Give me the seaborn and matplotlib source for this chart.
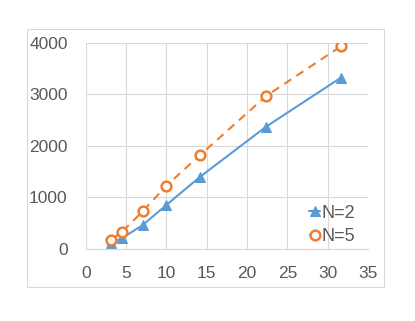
import matplotlib
matplotlib.use("Agg")
import matplotlib.pyplot as plt
import seaborn as sns
import pandas as pd
from matplotlib.patches import Rectangle

# data
x_vals = [3.16, 4.47, 7.07, 10.0, 14.14, 22.36, 31.62]
n2_vals = [110, 207, 465, 853, 1396, 2372, 3321]
n5_vals = [181, 330, 730, 1228, 1816, 2966, 3929]
series_names = ["N=2", "N=5"]

df = pd.DataFrame({
    "x": x_vals * 2,
    "y": n2_vals + n5_vals,
    "series": [series_names[0]] * len(x_vals) + [series_names[1]] * len(x_vals),
})

sns.set_theme(style="white")
plt.rcParams["font.family"] = ["Liberation Sans", "DejaVu Sans"]

blue = "#5B9BD5"
orange = "#ED7D31"
grey_text = "#595959"

fig = plt.figure(figsize=(4.15, 3.21), dpi=100)
fig.patches.append(Rectangle((0.064, 0.106), 0.861, 0.805, transform=fig.transFigure,
                             fill=False, edgecolor="#D9D9D9", linewidth=0.8))
ax = fig.add_axes([0.2065, 0.2243, 0.6805, 0.6427])

d2 = df[df["series"] == "N=2"]
d5 = df[df["series"] == "N=5"]
sns.lineplot(data=d2, x="x", y="y", ax=ax, color=blue, marker="^", markersize=7,
             markeredgecolor=blue, linewidth=1.5, label="N=2")
sns.lineplot(data=d5, x="x", y="y", ax=ax, color=orange, marker="o", markersize=7,
             markerfacecolor="white", markeredgecolor=orange, markeredgewidth=1.8,
             linewidth=1.5, linestyle=(0, (4, 3)), label="N=5")

ax.set_xlim(0, 35)
ax.set_ylim(0, 4000)
ax.set_xticks(range(0, 36, 5))
ax.set_yticks(range(0, 4001, 1000))
ax.grid(True, color="#D9D9D9", linewidth=0.8)
ax.set_axisbelow(True)
for side in ["top", "right", "left"]:
    ax.spines[side].set_visible(False)
ax.spines["bottom"].set_color("#D9D9D9")
ax.spines["bottom"].set_linewidth(0.8)
ax.tick_params(axis="both", length=0, labelsize=12.5, colors=grey_text)
ax.tick_params(axis="y", pad=13)
ax.tick_params(axis="x", pad=12)
ax.set_xlabel("")
ax.set_ylabel("")

leg = ax.legend(loc="lower right", bbox_to_anchor=(0.955, 0.02), frameon=False,
                fontsize=13, handlelength=0.6, handletextpad=0.1, labelspacing=0.35,
                borderaxespad=0, borderpad=0)
for t in leg.get_texts():
    t.set_color(grey_text)

fig.savefig("out.png", dpi=100)
